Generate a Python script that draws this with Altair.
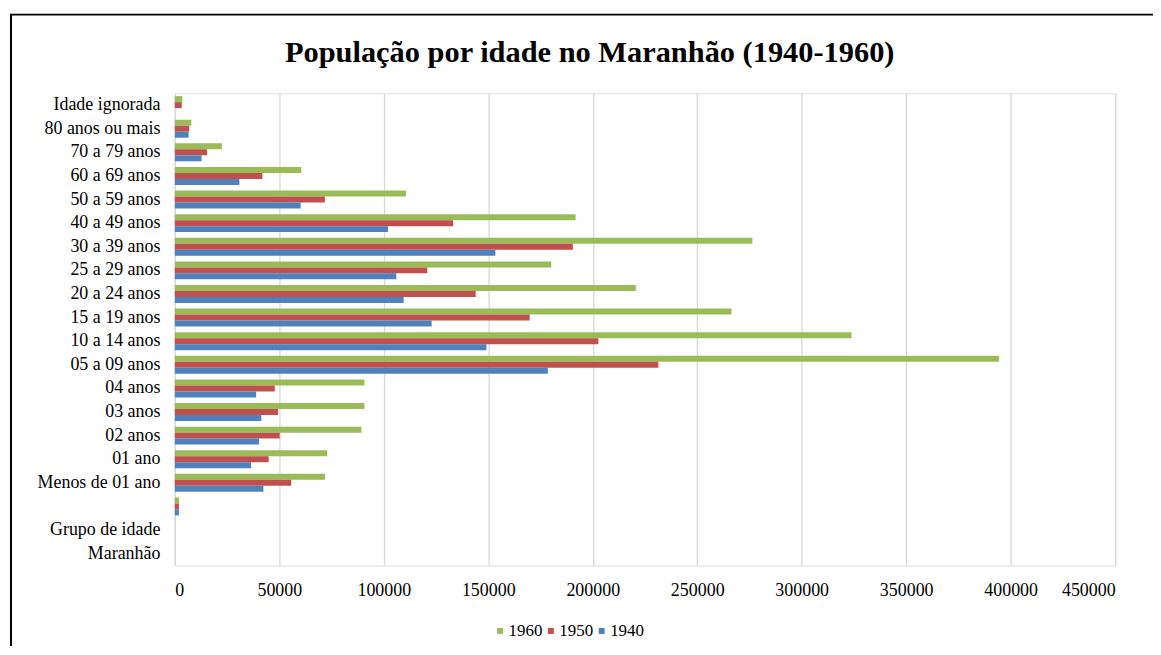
import altair as alt
import pandas as pd

categorias = ["Idade ignorada", "80 anos ou mais", "70 a 79 anos", "60 a 69 anos",
              "50 a 59 anos", "40 a 49 anos", "30 a 39 anos", "25 a 29 anos",
              "20 a 24 anos", "15 a 19 anos", "10 a 14 anos", "05 a 09 anos",
              "04 anos", "03 anos", "02 anos", "01 ano", "Menos de 01 ano", " ",
              "Grupo de idade", "Maranhão"]
pop_1960 = [3600, 7900, 22500, 60500, 110600, 191800, 276400, 180100, 220600, 266400,
            323800, 394400, 90700, 90700, 89300, 72900, 71900, 1960, None, None]
pop_1950 = [3300, 6900, 15400, 41900, 71800, 133200, 190500, 120800, 144000, 169800,
            202700, 231400, 47800, 49400, 50200, 44900, 55700, 1950, None, None]
pop_1940 = [None, 6600, 12800, 30900, 60200, 102000, 153400, 106000, 109500, 122900,
            149100, 178500, 38900, 41400, 40300, 36500, 42400, 1940, None, None]
anos = ["1960", "1950", "1940"]
cores = ["#9BBB59", "#C0504D", "#4F81BD"]
eixo_x = [0, 50000, 100000, 150000, 200000, 250000, 300000, 350000, 400000, 450000]
titulo = "População por idade no Maranhão (1940-1960)"

rows = []
for ano, serie in zip(anos, [pop_1960, pop_1950, pop_1940]):
    for cat, v in zip(categorias, serie):
        rows.append({"grupo": cat, "ano": ano, "pop": v})
df = pd.DataFrame(rows)

FONT = "Liberation Serif"

bars = alt.Chart(df).mark_bar().encode(
    y=alt.Y("grupo:N", sort=categorias,
            scale=alt.Scale(domain=categorias, paddingInner=0.24, paddingOuter=0.12),
            axis=alt.Axis(title=None, ticks=False, grid=False, domain=True,
                          domainColor="#D9D9D9", domainWidth=1.3,
                          labelFont=FONT, labelFontSize=18, labelColor="#000000",
                          labelPadding=15)),
    x=alt.X("pop:Q", scale=alt.Scale(domain=[0, 450000], nice=False),
            axis=alt.Axis(title=None, values=eixo_x, format="d", ticks=False,
                          domain=False, grid=True, gridColor="#D9D9D9", gridWidth=1.3,
                          labelFont=FONT, labelFontSize=18, labelColor="#000000",
                          labelPadding=16)),
    yOffset=alt.YOffset("ano:N", sort=anos, scale=alt.Scale(paddingInner=0, paddingOuter=0)),
    color=alt.Color("ano:N", sort=anos,
                    scale=alt.Scale(domain=anos, range=cores),
                    legend=alt.Legend(title=None, orient="none", direction="horizontal",
                                      legendX=318, legendY=531,
                                      symbolType="square", symbolSize=36,
                                      symbolStrokeWidth=0,
                                      labelFont=FONT, labelFontSize=17,
                                      labelColor="#000000", labelOffset=0,
                                      columnPadding=0)),
)

frame = alt.Chart(alt.Data(values=[{"a": 1}])).mark_rect(
    fillOpacity=0, stroke="#000000", strokeWidth=2
).encode(
    x=alt.value(-164.5), x2=alt.value(995),
    y=alt.value(-79), y2=alt.value(565),
)

title = alt.Chart(alt.Data(values=[{"t": titulo}])).mark_text(
    font=FONT, fontSize=30.5, fontWeight="bold", color="#000000",
    align="center", baseline="alphabetic"
).encode(
    text="t:N", x=alt.value(416.5), y=alt.value(-31.5),
)

chart = alt.layer(bars, frame, title).properties(
    width=944, height=474,
    padding={"left": 167.5, "top": 84.4, "right": 38, "bottom": 80},
    autosize=alt.AutoSizeParams(type="none"),
).configure_view(stroke=None).configure(background="white")

chart.save("out.html", embed_options={"renderer": "svg", "actions": False})
